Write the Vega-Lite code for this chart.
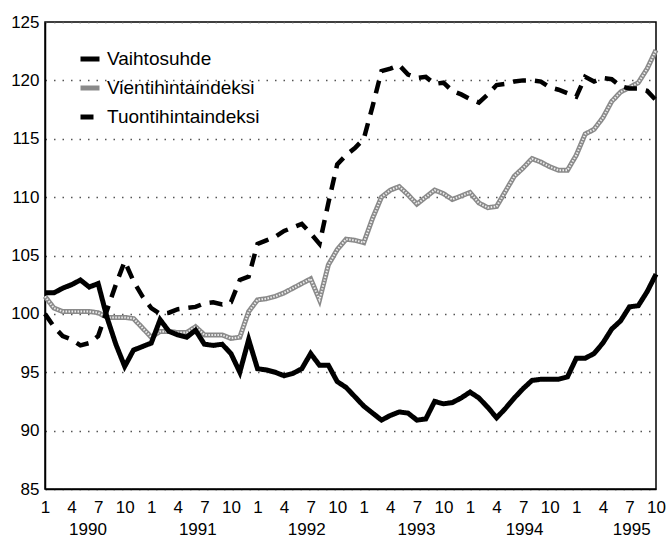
{
  "$schema": "https://vega.github.io/schema/vega-lite/v6.json",
  "width": 611,
  "height": 467,
  "autosize": {"type": "none"},
  "padding": {"left": 45, "top": 22, "right": 11, "bottom": 48},
  "background": "white",
  "config": {
    "view": {"stroke": "#000", "strokeWidth": 1.5},
    "font": "Liberation Sans",
    "legend": {
      "orient": "none", "legendX": 33, "legendY": 25, "title": null,
      "symbolType": "stroke", "symbolSize": 361, "symbolStrokeWidth": 5,
      "labelFontSize": 19, "labelColor": "#000", "labelOffset": 5, "rowPadding": 7, "padding": 0
    }
  },
  "data": {"values": [
{"t":0,"s":"Vaihtosuhde","v":101.8},{"t":1,"s":"Vaihtosuhde","v":101.8},{"t":2,"s":"Vaihtosuhde","v":102.2},{"t":3,"s":"Vaihtosuhde","v":102.5},{"t":4,"s":"Vaihtosuhde","v":102.9},{"t":5,"s":"Vaihtosuhde","v":102.3},{"t":6,"s":"Vaihtosuhde","v":102.6},{"t":7,"s":"Vaihtosuhde","v":99.7},{"t":8,"s":"Vaihtosuhde","v":97.4},{"t":9,"s":"Vaihtosuhde","v":95.5},{"t":10,"s":"Vaihtosuhde","v":96.9},{"t":11,"s":"Vaihtosuhde","v":97.2},
{"t":12,"s":"Vaihtosuhde","v":97.5},{"t":13,"s":"Vaihtosuhde","v":99.5},{"t":14,"s":"Vaihtosuhde","v":98.5},{"t":15,"s":"Vaihtosuhde","v":98.2},{"t":16,"s":"Vaihtosuhde","v":98.0},{"t":17,"s":"Vaihtosuhde","v":98.6},{"t":18,"s":"Vaihtosuhde","v":97.4},{"t":19,"s":"Vaihtosuhde","v":97.3},{"t":20,"s":"Vaihtosuhde","v":97.4},{"t":21,"s":"Vaihtosuhde","v":96.6},{"t":22,"s":"Vaihtosuhde","v":95.0},{"t":23,"s":"Vaihtosuhde","v":97.8},
{"t":24,"s":"Vaihtosuhde","v":95.3},{"t":25,"s":"Vaihtosuhde","v":95.2},{"t":26,"s":"Vaihtosuhde","v":95.0},{"t":27,"s":"Vaihtosuhde","v":94.7},{"t":28,"s":"Vaihtosuhde","v":94.9},{"t":29,"s":"Vaihtosuhde","v":95.3},{"t":30,"s":"Vaihtosuhde","v":96.6},{"t":31,"s":"Vaihtosuhde","v":95.6},{"t":32,"s":"Vaihtosuhde","v":95.6},{"t":33,"s":"Vaihtosuhde","v":94.2},{"t":34,"s":"Vaihtosuhde","v":93.7},{"t":35,"s":"Vaihtosuhde","v":92.9},
{"t":36,"s":"Vaihtosuhde","v":92.1},{"t":37,"s":"Vaihtosuhde","v":91.5},{"t":38,"s":"Vaihtosuhde","v":90.9},{"t":39,"s":"Vaihtosuhde","v":91.3},{"t":40,"s":"Vaihtosuhde","v":91.6},{"t":41,"s":"Vaihtosuhde","v":91.5},{"t":42,"s":"Vaihtosuhde","v":90.9},{"t":43,"s":"Vaihtosuhde","v":91.0},{"t":44,"s":"Vaihtosuhde","v":92.5},{"t":45,"s":"Vaihtosuhde","v":92.3},{"t":46,"s":"Vaihtosuhde","v":92.4},{"t":47,"s":"Vaihtosuhde","v":92.8},
{"t":48,"s":"Vaihtosuhde","v":93.3},{"t":49,"s":"Vaihtosuhde","v":92.8},{"t":50,"s":"Vaihtosuhde","v":92.0},{"t":51,"s":"Vaihtosuhde","v":91.1},{"t":52,"s":"Vaihtosuhde","v":91.9},{"t":53,"s":"Vaihtosuhde","v":92.8},{"t":54,"s":"Vaihtosuhde","v":93.6},{"t":55,"s":"Vaihtosuhde","v":94.3},{"t":56,"s":"Vaihtosuhde","v":94.4},{"t":57,"s":"Vaihtosuhde","v":94.4},{"t":58,"s":"Vaihtosuhde","v":94.4},{"t":59,"s":"Vaihtosuhde","v":94.6},
{"t":60,"s":"Vaihtosuhde","v":96.2},{"t":61,"s":"Vaihtosuhde","v":96.2},{"t":62,"s":"Vaihtosuhde","v":96.6},{"t":63,"s":"Vaihtosuhde","v":97.5},{"t":64,"s":"Vaihtosuhde","v":98.7},{"t":65,"s":"Vaihtosuhde","v":99.4},{"t":66,"s":"Vaihtosuhde","v":100.6},{"t":67,"s":"Vaihtosuhde","v":100.7},{"t":68,"s":"Vaihtosuhde","v":101.9},{"t":69,"s":"Vaihtosuhde","v":103.4},
{"t":0,"s":"Vientihintaindeksi","v":101.5},{"t":1,"s":"Vientihintaindeksi","v":100.5},{"t":2,"s":"Vientihintaindeksi","v":100.2},{"t":3,"s":"Vientihintaindeksi","v":100.2},{"t":4,"s":"Vientihintaindeksi","v":100.2},{"t":5,"s":"Vientihintaindeksi","v":100.2},{"t":6,"s":"Vientihintaindeksi","v":100.1},{"t":7,"s":"Vientihintaindeksi","v":99.7},{"t":8,"s":"Vientihintaindeksi","v":99.7},{"t":9,"s":"Vientihintaindeksi","v":99.7},{"t":10,"s":"Vientihintaindeksi","v":99.6},{"t":11,"s":"Vientihintaindeksi","v":98.8},
{"t":12,"s":"Vientihintaindeksi","v":98.0},{"t":13,"s":"Vientihintaindeksi","v":98.5},{"t":14,"s":"Vientihintaindeksi","v":98.5},{"t":15,"s":"Vientihintaindeksi","v":98.4},{"t":16,"s":"Vientihintaindeksi","v":98.4},{"t":17,"s":"Vientihintaindeksi","v":98.9},{"t":18,"s":"Vientihintaindeksi","v":98.2},{"t":19,"s":"Vientihintaindeksi","v":98.2},{"t":20,"s":"Vientihintaindeksi","v":98.2},{"t":21,"s":"Vientihintaindeksi","v":97.9},{"t":22,"s":"Vientihintaindeksi","v":98.0},{"t":23,"s":"Vientihintaindeksi","v":100.2},
{"t":24,"s":"Vientihintaindeksi","v":101.2},{"t":25,"s":"Vientihintaindeksi","v":101.3},{"t":26,"s":"Vientihintaindeksi","v":101.5},{"t":27,"s":"Vientihintaindeksi","v":101.8},{"t":28,"s":"Vientihintaindeksi","v":102.2},{"t":29,"s":"Vientihintaindeksi","v":102.6},{"t":30,"s":"Vientihintaindeksi","v":103.0},{"t":31,"s":"Vientihintaindeksi","v":101.2},{"t":32,"s":"Vientihintaindeksi","v":104.2},{"t":33,"s":"Vientihintaindeksi","v":105.5},{"t":34,"s":"Vientihintaindeksi","v":106.4},{"t":35,"s":"Vientihintaindeksi","v":106.3},
{"t":36,"s":"Vientihintaindeksi","v":106.1},{"t":37,"s":"Vientihintaindeksi","v":108.2},{"t":38,"s":"Vientihintaindeksi","v":110.0},{"t":39,"s":"Vientihintaindeksi","v":110.6},{"t":40,"s":"Vientihintaindeksi","v":110.9},{"t":41,"s":"Vientihintaindeksi","v":110.2},{"t":42,"s":"Vientihintaindeksi","v":109.4},{"t":43,"s":"Vientihintaindeksi","v":110.0},{"t":44,"s":"Vientihintaindeksi","v":110.6},{"t":45,"s":"Vientihintaindeksi","v":110.3},{"t":46,"s":"Vientihintaindeksi","v":109.8},{"t":47,"s":"Vientihintaindeksi","v":110.1},
{"t":48,"s":"Vientihintaindeksi","v":110.4},{"t":49,"s":"Vientihintaindeksi","v":109.5},{"t":50,"s":"Vientihintaindeksi","v":109.1},{"t":51,"s":"Vientihintaindeksi","v":109.2},{"t":52,"s":"Vientihintaindeksi","v":110.5},{"t":53,"s":"Vientihintaindeksi","v":111.8},{"t":54,"s":"Vientihintaindeksi","v":112.5},{"t":55,"s":"Vientihintaindeksi","v":113.3},{"t":56,"s":"Vientihintaindeksi","v":113.0},{"t":57,"s":"Vientihintaindeksi","v":112.6},{"t":58,"s":"Vientihintaindeksi","v":112.3},{"t":59,"s":"Vientihintaindeksi","v":112.3},
{"t":60,"s":"Vientihintaindeksi","v":113.6},{"t":61,"s":"Vientihintaindeksi","v":115.4},{"t":62,"s":"Vientihintaindeksi","v":115.8},{"t":63,"s":"Vientihintaindeksi","v":116.8},{"t":64,"s":"Vientihintaindeksi","v":118.2},{"t":65,"s":"Vientihintaindeksi","v":119.0},{"t":66,"s":"Vientihintaindeksi","v":119.4},{"t":67,"s":"Vientihintaindeksi","v":119.8},{"t":68,"s":"Vientihintaindeksi","v":121.0},{"t":69,"s":"Vientihintaindeksi","v":122.6},
{"t":0,"s":"Tuontihintaindeksi","v":100.0},{"t":1,"s":"Tuontihintaindeksi","v":98.9},{"t":2,"s":"Tuontihintaindeksi","v":98.1},{"t":3,"s":"Tuontihintaindeksi","v":97.8},{"t":4,"s":"Tuontihintaindeksi","v":97.3},{"t":5,"s":"Tuontihintaindeksi","v":97.5},{"t":6,"s":"Tuontihintaindeksi","v":98.1},{"t":7,"s":"Tuontihintaindeksi","v":100.3},{"t":8,"s":"Tuontihintaindeksi","v":102.5},{"t":9,"s":"Tuontihintaindeksi","v":104.5},{"t":10,"s":"Tuontihintaindeksi","v":102.8},{"t":11,"s":"Tuontihintaindeksi","v":101.5},
{"t":12,"s":"Tuontihintaindeksi","v":100.5},{"t":13,"s":"Tuontihintaindeksi","v":100.0},{"t":14,"s":"Tuontihintaindeksi","v":100.1},{"t":15,"s":"Tuontihintaindeksi","v":100.4},{"t":16,"s":"Tuontihintaindeksi","v":100.5},{"t":17,"s":"Tuontihintaindeksi","v":100.6},{"t":18,"s":"Tuontihintaindeksi","v":100.9},{"t":19,"s":"Tuontihintaindeksi","v":101.0},{"t":20,"s":"Tuontihintaindeksi","v":100.8},{"t":21,"s":"Tuontihintaindeksi","v":101.0},{"t":22,"s":"Tuontihintaindeksi","v":102.9},{"t":23,"s":"Tuontihintaindeksi","v":103.2},
{"t":24,"s":"Tuontihintaindeksi","v":106.0},{"t":25,"s":"Tuontihintaindeksi","v":106.3},{"t":26,"s":"Tuontihintaindeksi","v":106.6},{"t":27,"s":"Tuontihintaindeksi","v":107.1},{"t":28,"s":"Tuontihintaindeksi","v":107.4},{"t":29,"s":"Tuontihintaindeksi","v":107.7},{"t":30,"s":"Tuontihintaindeksi","v":106.9},{"t":31,"s":"Tuontihintaindeksi","v":106.0},{"t":32,"s":"Tuontihintaindeksi","v":109.5},{"t":33,"s":"Tuontihintaindeksi","v":112.8},{"t":34,"s":"Tuontihintaindeksi","v":113.6},{"t":35,"s":"Tuontihintaindeksi","v":114.2},
{"t":36,"s":"Tuontihintaindeksi","v":115.0},{"t":37,"s":"Tuontihintaindeksi","v":117.8},{"t":38,"s":"Tuontihintaindeksi","v":120.8},{"t":39,"s":"Tuontihintaindeksi","v":121.0},{"t":40,"s":"Tuontihintaindeksi","v":121.3},{"t":41,"s":"Tuontihintaindeksi","v":120.5},{"t":42,"s":"Tuontihintaindeksi","v":120.2},{"t":43,"s":"Tuontihintaindeksi","v":120.3},{"t":44,"s":"Tuontihintaindeksi","v":119.7},{"t":45,"s":"Tuontihintaindeksi","v":119.8},{"t":46,"s":"Tuontihintaindeksi","v":119.1},{"t":47,"s":"Tuontihintaindeksi","v":118.8},
{"t":48,"s":"Tuontihintaindeksi","v":118.4},{"t":49,"s":"Tuontihintaindeksi","v":118.1},{"t":50,"s":"Tuontihintaindeksi","v":118.8},{"t":51,"s":"Tuontihintaindeksi","v":119.6},{"t":52,"s":"Tuontihintaindeksi","v":119.7},{"t":53,"s":"Tuontihintaindeksi","v":119.9},{"t":54,"s":"Tuontihintaindeksi","v":120.0},{"t":55,"s":"Tuontihintaindeksi","v":120.0},{"t":56,"s":"Tuontihintaindeksi","v":119.9},{"t":57,"s":"Tuontihintaindeksi","v":119.4},{"t":58,"s":"Tuontihintaindeksi","v":119.2},{"t":59,"s":"Tuontihintaindeksi","v":118.9},
{"t":60,"s":"Tuontihintaindeksi","v":118.6},{"t":61,"s":"Tuontihintaindeksi","v":120.3},{"t":62,"s":"Tuontihintaindeksi","v":119.9},{"t":63,"s":"Tuontihintaindeksi","v":120.2},{"t":64,"s":"Tuontihintaindeksi","v":120.1},{"t":65,"s":"Tuontihintaindeksi","v":119.5},{"t":66,"s":"Tuontihintaindeksi","v":119.3},{"t":67,"s":"Tuontihintaindeksi","v":119.3},{"t":68,"s":"Tuontihintaindeksi","v":119.1},{"t":69,"s":"Tuontihintaindeksi","v":118.3}
  ]},
  "encoding": {
    "x": {
      "field": "t", "type": "quantitative",
      "scale": {"domain": [0, 69], "nice": false, "zero": false},
      "axis": {
        "title": null,
        "values": [0,3,6,9,12,15,18,21,24,27,30,33,36,39,42,45,48,51,54,57,60,63,66,69,4.8,17.2,29.5,41.9,54.1,66.2],
        "labelExpr": "datum.value % 3 == 0 ? '' + (datum.value % 12 + 1) : ['', '' + (1990 + floor(datum.value / 12))]",
        "grid": false, "ticks": false,
        "domainColor": "#000", "domainWidth": 1.5,
        "labelFontSize": 17, "labelColor": "#000", "labelPadding": 10, "labelLineHeight": 22,
        "labelFlush": false, "labelOverlap": false, "labelBound": false
      }
    },
    "y": {
      "field": "v", "type": "quantitative",
      "scale": {"domain": [85, 125], "nice": false, "zero": false},
      "axis": {
        "title": null, "values": [85,90,95,100,105,110,115,120,125],
        "ticks": false, "grid": true, "gridDash": [1.5, 7], "gridColor": "#555", "gridWidth": 1.5,
        "domainColor": "#000", "domainWidth": 1.5,
        "labelFontSize": 17, "labelColor": "#000", "labelPadding": 6
      }
    }
  },
  "layer": [
    {
      "transform": [{"filter": "datum.s == 'Vientihintaindeksi'"}],
      "mark": {"type": "line", "strokeWidth": 5},
      "encoding": {
        "color": {"field": "s", "type": "nominal", "scale": {"domain": ["Vaihtosuhde", "Vientihintaindeksi", "Tuontihintaindeksi"], "range": ["#000000", "#8a8a8a", "#000000"]}},
        "strokeDash": {"field": "s", "type": "nominal", "scale": {"domain": ["Vaihtosuhde", "Vientihintaindeksi", "Tuontihintaindeksi"], "range": [[1, 0], [1, 0], [13, 9]]}}
      }
    },
    {
      "transform": [{"filter": "datum.s == 'Vientihintaindeksi'"}],
      "mark": {"type": "line", "strokeWidth": 2, "color": "#eeeeee", "strokeDash": [1.5, 1.5]},
      "encoding": {}
    },
    {
      "transform": [{"filter": "datum.s == 'Tuontihintaindeksi'"}],
      "mark": {"type": "line", "strokeWidth": 4.5},
      "encoding": {
        "color": {"field": "s", "type": "nominal"},
        "strokeDash": {"field": "s", "type": "nominal"}
      }
    },
    {
      "transform": [{"filter": "datum.s == 'Vaihtosuhde'"}],
      "mark": {"type": "line", "strokeWidth": 5},
      "encoding": {
        "color": {"field": "s", "type": "nominal"},
        "strokeDash": {"field": "s", "type": "nominal"}
      }
    }
  ]
}
